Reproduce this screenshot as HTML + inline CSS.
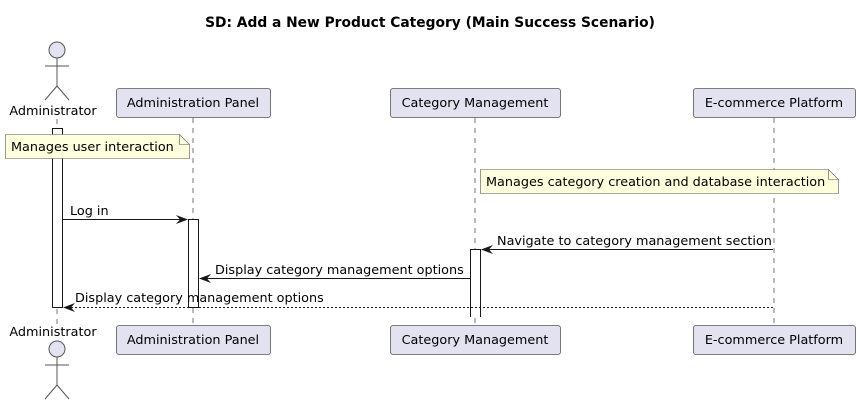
<!DOCTYPE html>
<html><head><meta charset="utf-8"><style>
html,body{margin:0;padding:0;background:#fff}
svg{display:block}
text{font-family:"DejaVu Sans","Liberation Sans",sans-serif;font-size:12.8px;fill:#000}
</style></head><body>
<svg width="860" height="405" viewBox="0 0 860 405" xmlns="http://www.w3.org/2000/svg">
<text x="430" y="27" text-anchor="middle" style="font-weight:bold;font-size:13.8px">SD: Add a New Product Category (Main Success Scenario)</text>
<g stroke="#555" stroke-width="0.8" stroke-dasharray="5,5">
<line x1="57" y1="119" x2="57" y2="325"/>
<line x1="193" y1="118" x2="193" y2="325"/>
<line x1="475" y1="118" x2="475" y2="325"/>
<line x1="774" y1="118" x2="774" y2="325"/>
</g>
<g stroke="#555" stroke-width="1" fill="none">
<circle cx="57" cy="50" r="8" fill="#E2E2F0"/>
<line x1="57" y1="58" x2="57" y2="86"/><line x1="45" y1="66" x2="69" y2="66"/>
<line x1="57" y1="86" x2="45" y2="100"/><line x1="57" y1="86" x2="69" y2="100"/>
<circle cx="57" cy="349" r="8" fill="#E2E2F0"/>
<line x1="57" y1="357" x2="57" y2="385"/><line x1="45" y1="365" x2="69" y2="365"/>
<line x1="57" y1="385" x2="45" y2="399"/><line x1="57" y1="385" x2="69" y2="399"/>
</g>
<text x="53" y="115" text-anchor="middle">Administrator</text>
<text x="53" y="336" text-anchor="middle">Administrator</text>
<g fill="#E2E2F0" stroke="#555" stroke-width="0.8">
<rect x="116.5" y="88.5" width="154" height="29" rx="2.5"/>
<rect x="390.5" y="88.5" width="170" height="29" rx="2.5"/>
<rect x="693.5" y="88.5" width="162" height="29" rx="2.5"/>
<rect x="116.5" y="325.5" width="154" height="29" rx="2.5"/>
<rect x="390.5" y="325.5" width="170" height="29" rx="2.5"/>
<rect x="693.5" y="325.5" width="162" height="29" rx="2.5"/>
</g>
<text x="193" y="107" text-anchor="middle">Administration Panel</text>
<text x="475" y="107" text-anchor="middle">Category Management</text>
<text x="774" y="107" text-anchor="middle">E-commerce Platform</text>
<text x="193" y="344" text-anchor="middle">Administration Panel</text>
<text x="475" y="344" text-anchor="middle">Category Management</text>
<text x="774" y="344" text-anchor="middle">E-commerce Platform</text>
<g fill="#fff" stroke="#181818" stroke-width="1">
<rect x="52.5" y="128.5" width="10" height="179"/>
<rect x="188.5" y="219.5" width="10" height="88"/>
<path d="M470.5 317 V249.5 H480.5 V317" />
</g>
<g fill="#FEFFDD" stroke="#555" stroke-width="0.6">
<path d="M5.5 134.5 H179.5 L189.5 144.5 V158.5 H5.5 Z"/>
<path d="M179.5 134.5 V144.5 H189.5" fill="none"/>
<path d="M480.5 169.5 H828.5 L838.5 179.5 V193.5 H480.5 Z"/>
<path d="M828.5 169.5 V179.5 H838.5" fill="none"/>
</g>
<text x="11" y="151">Manages user interaction</text>
<text x="486" y="186">Manages category creation and database interaction</text>
<g stroke="#181818" stroke-width="1" fill="none">
<line x1="63" y1="219.5" x2="186" y2="219.5"/>
<line x1="773" y1="249.5" x2="482" y2="249.5"/>
<line x1="470" y1="278.5" x2="200" y2="278.5"/>
<line x1="773" y1="307.5" x2="64" y2="307.5" stroke-dasharray="2,2"/>
</g>
<g fill="#181818">
<path d="M188 219.5 L176 215 L180 219.5 L176 224 Z"/>
<path d="M481 249.5 L493 245 L489 249.5 L493 254 Z"/>
<path d="M199 278.5 L211 274 L207 278.5 L211 283 Z"/>
<path d="M63 307.5 L75 303 L71 307.5 L75 312 Z"/>
</g>
<text x="70" y="215">Log in</text>
<text x="497" y="245">Navigate to category management section</text>
<text x="215" y="274">Display category management options</text>
<text x="75" y="302">Display category management options</text>
</svg>
</body></html>
